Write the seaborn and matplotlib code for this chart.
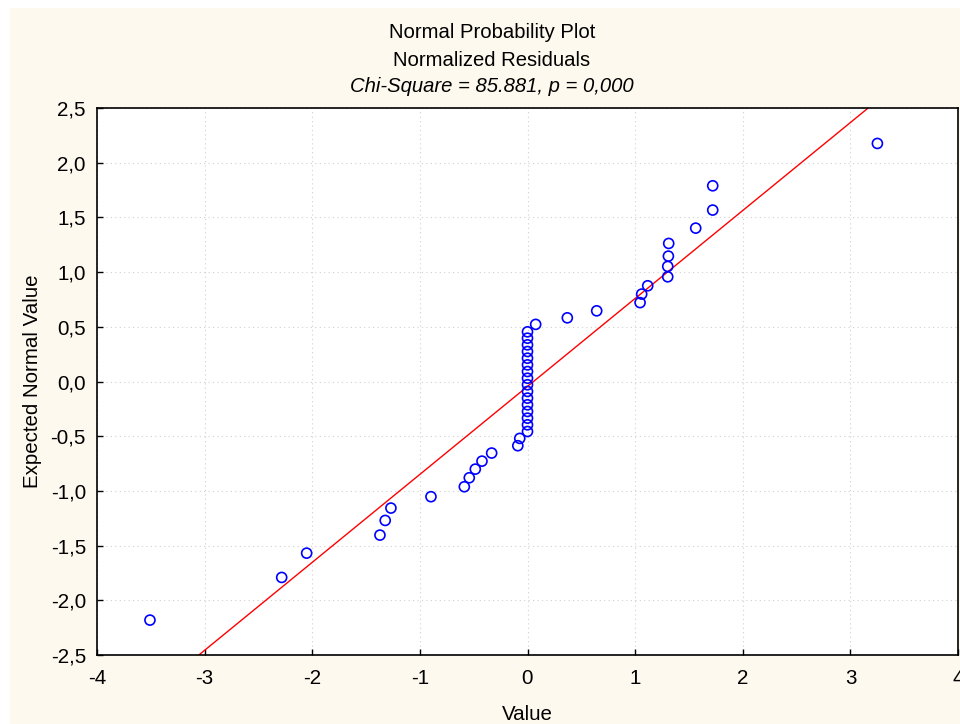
import numpy as np
import pandas as pd
import matplotlib
matplotlib.use("Agg")
import matplotlib.pyplot as plt
import seaborn as sns
from matplotlib.patches import Rectangle
from matplotlib.ticker import FuncFormatter

# Normalized residuals (x) and expected normal values (y)
residuals = [
    -3.508, -2.284, -2.052, -1.371, -1.322, -1.269, -0.897,
    -0.587, -0.541, -0.485, -0.423, -0.333, -0.090, -0.072,
    0.0, 0.0, 0.0, 0.0, 0.0, 0.0, 0.0, 0.0,
    0.0, 0.0, 0.0, 0.0, 0.0, 0.0, 0.0, 0.0,
    0.076, 0.370, 0.643, 1.046, 1.061, 1.117, 1.303,
    1.303, 1.309, 1.312, 1.563, 1.721, 1.721, 3.251,
]
expected = [
    -2.181, -1.791, -1.569, -1.404, -1.270, -1.157, -1.053,
    -0.962, -0.880, -0.801, -0.728, -0.654, -0.587, -0.520,
    -0.457, -0.396, -0.335, -0.274, -0.213, -0.152, -0.091, -0.030,
    0.030, 0.091, 0.152, 0.213, 0.274, 0.335, 0.396, 0.454,
    0.522, 0.582, 0.646, 0.721, 0.799, 0.875, 0.957,
    1.052, 1.146, 1.262, 1.402, 1.567, 1.789, 2.176,
]
# fitted reference line
line_intercept = -0.045
line_slope = 0.804

x_ticks = [-4, -3, -2, -1, 0, 1, 2, 3, 4]
y_ticks = [-2.5, -2.0, -1.5, -1.0, -0.5, 0.0, 0.5, 1.0, 1.5, 2.0, 2.5]

df = pd.DataFrame({"Value": residuals, "Expected Normal Value": expected})

sns.set_style("ticks")
plt.rcParams["font.family"] = ["Liberation Sans", "DejaVu Sans"]
plt.rcParams["axes.unicode_minus"] = False
plt.rcParams["text.color"] = "black"
plt.rcParams["axes.labelcolor"] = "black"
plt.rcParams["xtick.color"] = "black"
plt.rcParams["ytick.color"] = "black"

fig = plt.figure(figsize=(9.6, 7.24), dpi=100)
fig.patch.set_facecolor("white")
# cream panel behind the chart
fig.patches.append(Rectangle((10 / 960, 0), 1, 1 - 8 / 724, transform=fig.transFigure,
                             facecolor="#fdf9ee", edgecolor="none", zorder=-10))

ax = fig.add_axes([97 / 960, 1 - 655 / 724, (958 - 97) / 960, (655 - 108) / 724])
ax.set_facecolor("white")

sns.scatterplot(data=df, x="Value", y="Expected Normal Value", ax=ax,
                s=52, facecolors="none", edgecolor="#0000ff", linewidth=1.2,
                zorder=3)
ax.axline((0, line_intercept), slope=line_slope, color="#ff0000", lw=1.0, zorder=2)

ax.set_xlim(-4, 4)
ax.set_ylim(-2.5, 2.5)
ax.set_xticks(x_ticks)
ax.set_yticks(y_ticks)
ax.xaxis.set_major_formatter(FuncFormatter(lambda v, p: f"{v:.0f}"))
ax.yaxis.set_major_formatter(FuncFormatter(lambda v, p: f"{v:.1f}".replace(".", ",")))
ax.tick_params(direction="in", length=4, width=1, labelsize=14.8,
               top=False, right=False, color="black")
ax.tick_params(axis="x", pad=10)
ax.tick_params(axis="y", pad=8)
ax.grid(True, linestyle=(0, (1, 3)), color="#d0d0d0", lw=0.8)
for s in ax.spines.values():
    s.set_linewidth(1.2)
    s.set_color("black")
    s.set_visible(True)

ax.set_xlabel("Value", fontsize=14.8, labelpad=12)
ax.set_ylabel("Expected Normal Value", fontsize=14.8, labelpad=6)

fig.text(492 / 960, 1 - 32 / 724, "Normal Probability Plot", ha="center", va="center", fontsize=14.6)
fig.text(492 / 960, 1 - 60 / 724, "Normalized Residuals", ha="center", va="center", fontsize=14.6)
fig.text(492 / 960, 1 - 86 / 724, "Chi-Square = 85.881, p = 0,000", ha="center", va="center",
         fontsize=14.6, style="italic")

fig.savefig("out.png", dpi=100)
